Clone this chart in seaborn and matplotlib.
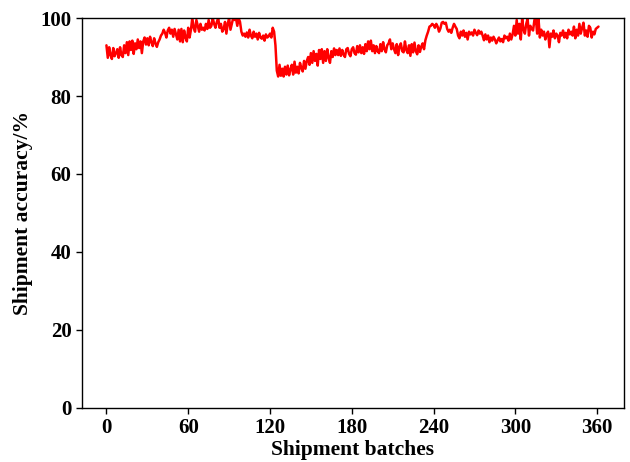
import numpy as np
import pandas as pd
import matplotlib
matplotlib.use("Agg")
import matplotlib.pyplot as plt
import seaborn as sns

seg1 = [93, 89.8, 92.5, 90.5, 89.5, 92.3, 90.2, 91, 92, 89.8, 92.5, 90.5, 90,
        93, 91, 93.8, 90.5, 94, 91.8, 94.2, 90.8, 93.5, 92, 94.5, 92.3, 94, 91,
        94, 95, 93.2, 94.8, 93, 95.2, 93.8, 92.8, 94.8, 93.5, 92.6, 93.8, 94.5, 95.5,
        96, 97, 96.2, 95, 96.8, 97.5, 96, 97, 95.2, 97.2, 95.8,
        94.5, 97, 94, 97.2, 93.8, 96.8, 95, 94, 97.5, 95]
seg2 = [97, 100, 97.5, 96.5, 99.5, 98, 96.5, 98.5, 97, 97.5, 96.8, 98.5, 97.2, 99.5,
        97.5, 98, 100, 98.5, 97.5, 99, 100, 97.5,
        98.5, 96.5, 97.2, 99, 96, 98.5, 100, 97, 98.5, 100, 99.5, 100, 98, 100, 99, 96.5,
        95.5, 96, 95.2, 96.3, 95, 97, 95.5, 94.8, 96.5, 95.2, 96, 94.5, 96.2, 95, 94.7,
        95.5, 94.2, 95.8, 95, 95.3, 96, 95, 97.5,
        96.5, 93]
seg3 = [86.5, 85, 88, 85.2, 87, 85, 87.5, 85.5, 87.8, 85.3, 86.8, 88, 85.5, 88.8, 86,
        87.5, 85.8, 88.5, 87.2, 86.3, 89, 87, 89,
        90, 88, 91, 88.5, 91.5, 89, 90.8, 87.8, 91.8, 89.5, 92, 88.5, 91.5, 89, 92,
        89.8, 88.5, 91.5, 90, 92.2, 90.5, 91.8,
        90.5, 92.2, 90.3, 91.8, 90.6, 90, 92, 92.3, 90.8, 90.2, 92, 92.5, 91, 90.6, 92.8,
        91.2, 93, 91, 92.5, 90.8, 93.3, 91.5]
seg4 = [94, 92, 94.2, 91.5, 93, 91, 92.8, 91.5, 91, 93.3, 91.5, 93.8, 92, 91.2,
        93, 93.5, 94.5, 92, 93.5,
        92, 91, 93.3, 90.5, 92.7, 93.5, 91.5, 91.2, 94, 91.8, 91, 93, 90.3, 93.3, 91.2,
        93.7, 91.5, 90.7, 93, 91.3, 92.7, 93.5, 92, 94.3, 95.5]
seg5 = [96.5, 97.8, 98, 98.5,
        98.2, 97.5, 98.5, 97.8, 96.5, 97.3, 98.8, 99, 98.5, 98.8, 97.2, 96.5, 97, 96.2,
        97.5, 98.5, 97.8, 97.2,
        95.5, 94.8, 96.5, 95.5, 96.8, 95.2, 96.2, 94.5, 96.5, 95.8, 96.3, 95.5, 97, 96.2,
        95.6, 96.8, 96,
        96.5, 95.5, 94.3, 95.8, 94.5, 95.5, 93.8, 95, 94.2, 95.2,
        94.5, 93.5, 94.3, 95, 94, 94.6, 93.8, 95.5, 94.8, 95.2, 94.2, 96, 94.5, 95.8]
seg6 = [98, 95.5, 99.5, 96, 98.5, 94.5, 99.8, 97, 96, 98.5, 99.8, 95.5, 98, 97.2, 96.8,
        99.5, 100, 96, 99.8, 95, 97, 95.5,
        96.5, 94.5, 95.8, 96.5, 92.5, 96, 95.2, 96.8, 94.8, 96, 95.5, 93.8, 96.2,
        95.5, 96.8, 95, 96.2, 94.8, 97, 95.8, 96.5, 95.5, 97.8, 94.8, 97, 95.5, 98.5, 96,
        97.5, 98.8, 95.5, 96.8, 95.2, 98, 97.5, 95, 96.5, 95.8, 97.2, 97.5, 97.8]

accuracy = seg1 + seg2 + seg3 + seg4 + seg5 + seg6
batches = list(range(len(accuracy)))
x_ticks = [0, 60, 120, 180, 240, 300, 360]
y_ticks = [0, 20, 40, 60, 80, 100]

sns.set_theme(style="ticks")
plt.rcParams['font.family'] = ['Liberation Serif', 'DejaVu Serif']
plt.rcParams['font.weight'] = 'bold'
plt.rcParams['text.color'] = 'black'
plt.rcParams['axes.labelcolor'] = 'black'
plt.rcParams['xtick.color'] = 'black'
plt.rcParams['ytick.color'] = 'black'

df = pd.DataFrame({"batch": batches, "acc": accuracy})

fig = plt.figure(figsize=(6.3, 4.62), dpi=100)
ax = fig.add_axes([0.130, 0.117, 0.860, 0.844])
sns.lineplot(data=df, x="batch", y="acc", color="red", linewidth=1.8, ax=ax)

ax.set_ylim(0, 100)
ax.set_xlim(-18, 379.5)
ax.set_xticks(x_ticks)
ax.set_yticks(y_ticks)
for sp in ax.spines.values():
    sp.set_visible(True)
    sp.set_color("black")
    sp.set_linewidth(1.0)
ax.tick_params(axis="both", direction="out", length=4, width=1, labelsize=15,
               colors="black", labelcolor="black")
for lab in ax.get_xticklabels() + ax.get_yticklabels():
    lab.set_fontweight("bold")
ax.set_xlabel("Shipment batches", fontsize=15.5, fontweight="bold", labelpad=1, color="black")
ax.set_ylabel("Shipment accuracy/%", fontsize=15.5, fontweight="bold", labelpad=5, color="black")

fig.savefig("out.png", dpi=100)
